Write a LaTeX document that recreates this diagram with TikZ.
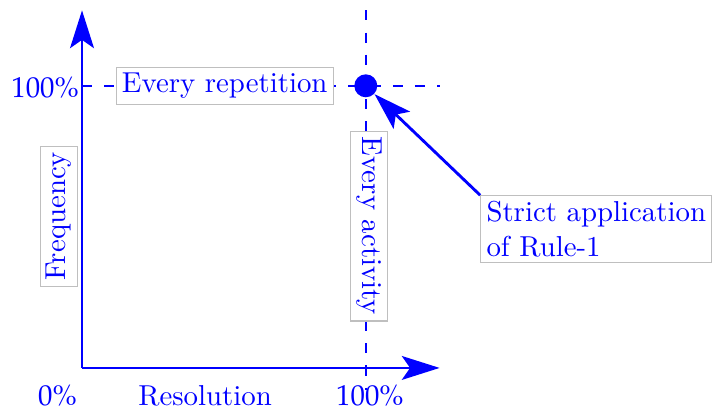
\documentclass[tikz,border=0pt]{standalone}
\usepackage{mathpazo}
\usepackage{tikz}
\usetikzlibrary{arrows.meta}
\begin{document}
\begin{tikzpicture}[
    lbl/.style={draw=black!25, fill=white, text=blue, line width=0.4pt, inner sep=2pt},
    axis/.style={-{Stealth[length=0.46cm, width=0.29cm, inset=0.1cm]}, blue, line width=1pt},
    guide/.style={blue, line width=0.7pt, dash pattern=on 3.5pt off 4.2pt},
    tick/.style={text=blue},
]
\useasboundingbox (-1.0,-0.524) rectangle (7.73,4.486);

\coordinate (origin) at (0,0);
\coordinate (ytop) at (0,4.36);
\coordinate (xend) at (4.36,0);
\coordinate (vtop) at (3.46,4.36);
\coordinate (vbot) at (3.46,-0.27);
\coordinate (hleft) at (0,3.44);
\coordinate (hright) at (4.36,3.44);

\draw[guide] (vtop) -- (vbot);
\draw[guide] (hleft) -- (hright);
\draw[axis] (origin) -- (ytop);
\draw[axis] (origin) -- (xend);

\node[circle, fill=blue, minimum size=0.28cm, inner sep=0pt] (hit) at (3.46,3.44) {};

\node[lbl] (every) at (1.74,3.44) {Every repetition};
\node[lbl, rotate=90] (freq) at (-0.28,1.85) {Frequency};
\node[lbl, rotate=-90] (act) at (3.50,1.73) {Every activity};
\node[lbl, align=left] (rule) at (6.27,1.69) {Strict application\\of Rule-1};

\draw[axis] (rule.north west) -- (hit);

\node[tick] (ymax) at (-0.45,3.42) {$100\%$};
\node[tick] (zero) at (-0.30,-0.34) {$0\%$};
\node[tick] (xlabel) at (1.50,-0.34) {Resolution};
\node[tick] (xmax) at (3.51,-0.34) {$100\%$};
\end{tikzpicture}
\end{document}
